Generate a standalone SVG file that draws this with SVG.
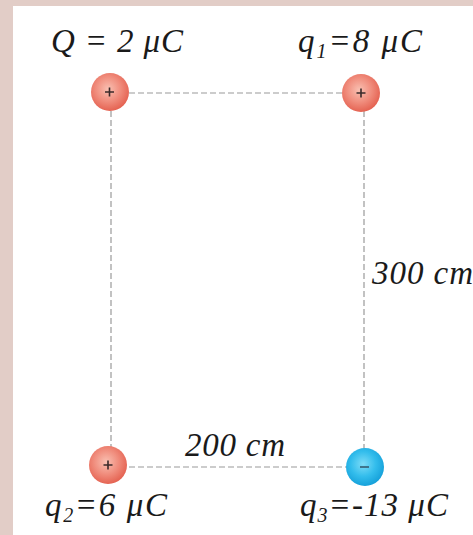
<svg xmlns="http://www.w3.org/2000/svg" width="473" height="535" viewBox="0 0 473 535">
<defs>
<radialGradient id="gPos" cx="0.45" cy="0.42" r="0.6">
<stop offset="0" stop-color="#f9c0b2"/>
<stop offset="0.55" stop-color="#f08c7c"/>
<stop offset="1" stop-color="#e4604f"/>
</radialGradient>
<radialGradient id="gNeg" cx="0.45" cy="0.42" r="0.6">
<stop offset="0" stop-color="#7ddcf7"/>
<stop offset="0.55" stop-color="#33bdec"/>
<stop offset="1" stop-color="#149fd9"/>
</radialGradient>
<style>
.t{font-family:"Liberation Serif","Times New Roman",serif;font-style:italic;font-size:33px;fill:#1a1a1a}
.s{font-size:20px}
.d{stroke:#9a9a9a;stroke-width:1.2;stroke-dasharray:6 3;fill:none}
.sign{stroke:#3a2a2a;stroke-width:1.6;fill:none}
</style>
</defs>
<rect x="0" y="0" width="473" height="535" fill="#e2cdc7"/>
<rect x="13" y="6" width="460" height="529" fill="#ffffff"/>
<g id="connectors">
<line class="d" x1="111" y1="93" x2="364" y2="93"/>
<line class="d" x1="111" y1="467" x2="364" y2="467"/>
<line class="d" x1="111" y1="93" x2="111" y2="467"/>
<line class="d" x1="364" y1="93" x2="364" y2="467"/>
</g>
<g id="Q">
<circle cx="110" cy="92" r="19" fill="url(#gPos)"/>
<path class="sign" d="M105 92h9M109.5 87.5v9"/>
<text class="t" x="51" y="52" textLength="132">Q = 2 μC</text>
</g>
<g id="q1">
<circle cx="361" cy="93" r="19" fill="url(#gPos)"/>
<path class="sign" d="M356.5 93h9M361 88.5v9"/>
<text class="t" x="298" y="52" textLength="124">q<tspan class="s" dy="6">1</tspan><tspan dy="-6">=8 μC</tspan></text>
</g>
<g id="q2">
<circle cx="108" cy="465" r="19" fill="url(#gPos)"/>
<path class="sign" d="M103.5 465h9M108 460.5v9"/>
<text class="t" x="45" y="516" textLength="122">q<tspan class="s" dy="6">2</tspan><tspan dy="-6">=6 μC</tspan></text>
</g>
<g id="q3">
<circle cx="365" cy="467" r="19" fill="url(#gNeg)"/>
<path d="M360 467h9" stroke="#3a6a80" stroke-width="1.8"/>
<text class="t" x="300" y="516" textLength="148">q<tspan class="s" dy="6">3</tspan><tspan dy="-6">=-13 μC</tspan></text>
</g>
<g id="labels">
<text class="t" x="372" y="284" textLength="101">300 cm</text>
<text class="t" x="185" y="456" textLength="100">200 cm</text>
</g>
</svg>
